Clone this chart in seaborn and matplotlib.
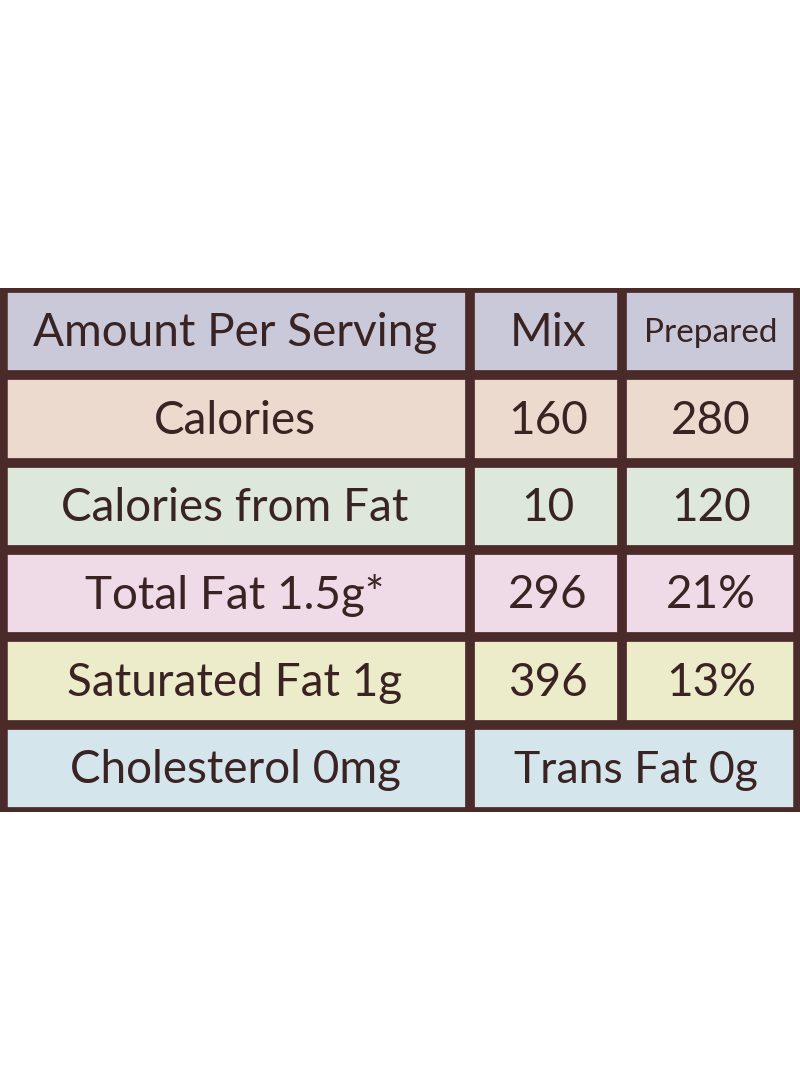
import numpy as np
import matplotlib.pyplot as plt
import seaborn as sns
from matplotlib.colors import ListedColormap

row_labels = ["Amount Per Serving", "Calories", "Calories from Fat",
              "Total Fat 1.5g*", "Saturated Fat 1g", "Cholesterol 0mg"]
mix_values = ["Mix", "160", "10", "296", "396"]
prepared_values = ["Prepared", "280", "120", "21%", "13%"]
last_row_right = "Trans Fat 0g"
row_colors = ["#cac9da", "#eddacf", "#dde7da", "#efdbe7", "#edecca", "#d4e5ec"]

# column edges in pixel-like units across 800 wide
col_edges = [0, 470, 622, 800]

fig = plt.figure(figsize=(8, 10.91), dpi=100)
ax = fig.add_axes([0, 1 - 812 / 1091, 1, 524 / 1091])
grid = np.repeat(np.arange(len(row_colors))[:, None], 800, axis=1)
sns.heatmap(grid, cmap=ListedColormap(row_colors), cbar=False, ax=ax,
            xticklabels=False, yticklabels=False)

border = "#4b2a2a"
txt = "#3a2323"
ax.hlines(np.arange(0, 7), 0, 800, color=border, lw=7)
ax.vlines([1, 799], 0, 6, color=border, lw=9)
ax.vlines(col_edges[1], 0, 6, color=border, lw=7)
ax.vlines(col_edges[2], 0, 5, color=border, lw=7)

font = "Lato"
for i, lab in enumerate(row_labels):
    ax.text(235, i + 0.52, lab, ha="center", va="center", fontsize=33,
            color=txt, family=font)
for i, v in enumerate(mix_values):
    ax.text(548, i + 0.52, v, ha="center", va="center", fontsize=33,
            color=txt, family=font)
for i, v in enumerate(prepared_values):
    size = 24 if i == 0 else 33
    ax.text(711, i + 0.52, v, ha="center", va="center", fontsize=size,
            color=txt, family=font)
ax.text(636, 5.52, last_row_right, ha="center", va="center", fontsize=32,
        color=txt, family=font)

ax.set_xlim(0, 800)
ax.set_ylim(6, 0)
ax.axis("off")
fig.savefig("out.png", dpi=100, facecolor="white")
